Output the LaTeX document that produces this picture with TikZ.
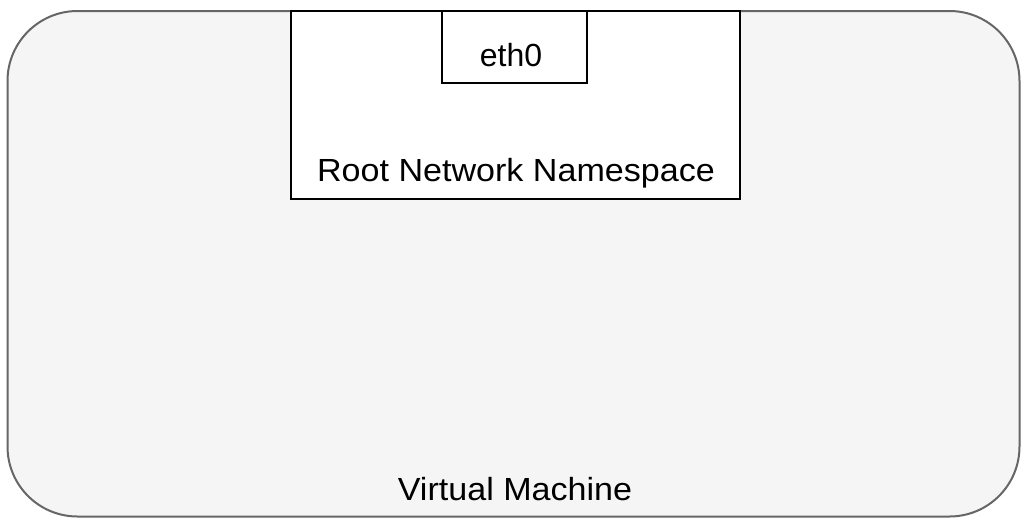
\documentclass[tikz,border=0pt]{standalone}
\usepackage{fontspec}
\setmainfont{Liberation Sans}
\definecolor{vmfill}{HTML}{F5F5F5}
\definecolor{vmline}{HTML}{666666}
\begin{document}
\begin{tikzpicture}[x=1pt,y=-1pt,
  lbl/.style={font=\fontsize{32}{38}\selectfont, inner sep=0pt, anchor=base},
  vmbox/.style={draw=vmline, fill=vmfill, line width=2pt, rounded corners=70pt},
  nsbox/.style={draw=black, fill=white, line width=2pt}]
\useasboundingbox (0,0) rectangle (1031,523);
\draw[vmbox] (7.5,11) rectangle (1019.5,516.5);
\draw[nsbox] (290.5,11) rectangle (739.5,198.5);
\draw[nsbox] (441.5,11) rectangle (586.5,83);
\node[lbl] (eth) at (511,66.5) {eth0};
\node[lbl] (ns) at (516,181.5) {\scalebox{1.065}[1]{Root Network Namespace}};
\node[lbl] (vm) at (515,500) {\scalebox{1.065}[1]{Virtual Machine}};
\end{tikzpicture}
\end{document}
